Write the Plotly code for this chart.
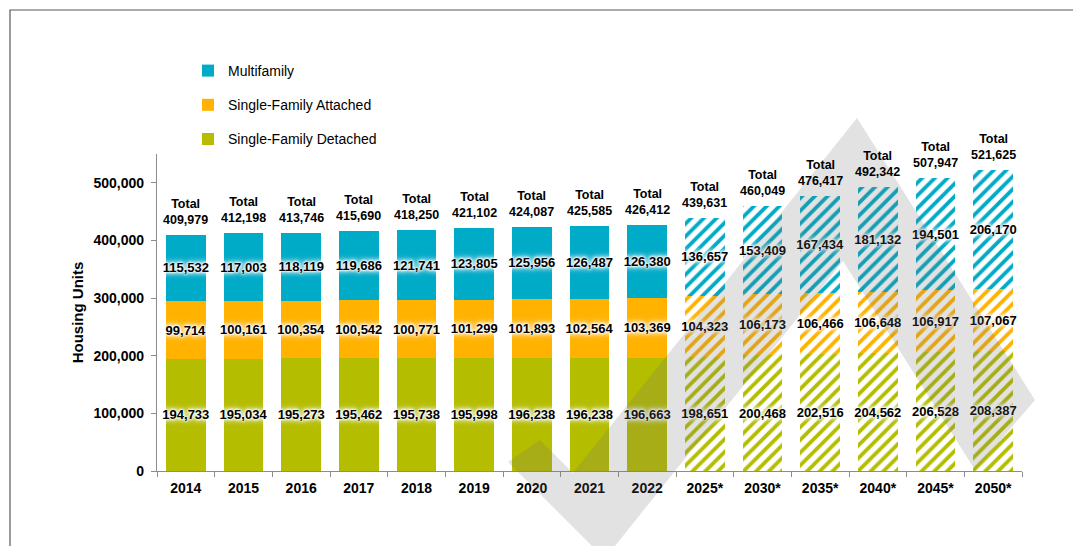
import plotly.graph_objects as go

years = ["2014", "2015", "2016", "2017", "2018", "2019", "2020", "2021", "2022",
         "2025*", "2030*", "2035*", "2040*", "2045*", "2050*"]
n_hist = 9
sf_detached = [194733, 195034, 195273, 195462, 195738, 195998, 196238, 196238, 196663,
               198651, 200468, 202516, 204562, 206528, 208387]
sf_attached = [99714, 100161, 100354, 100542, 100771, 101299, 101893, 102564, 103369,
               104323, 106173, 106466, 106648, 106917, 107067]
multifamily = [115532, 117003, 118119, 119686, 121741, 123805, 125956, 126487, 126380,
               136657, 153409, 167434, 181132, 194501, 206170]
totals = [409979, 412198, 413746, 415690, 418250, 421102, 424087, 425585, 426412,
          439631, 460049, 476417, 492342, 507947, 521625]

series = [
    ("Single-Family Detached", sf_detached, "#b5bd00", 3),
    ("Single-Family Attached", sf_attached, "#ffb300", 2),
    ("Multifamily", multifamily, "#00abc8", 1),
]

# page is drawn with an 8px body margin, so the figure is 8px smaller and offset
OFF = 8
W, H = 1081 - OFF, 546 - OFF
L, R, T, B = 157, 1022, 154, 471   # plot area in page pixels


def px(x, y):
    return (x - L) / (R - L), (B - y) / (B - T)


FONT = "Liberation Sans, Arial, sans-serif"
glow = ("0px 0px 2px #fff, 0px 0px 3px #fff, 0px 0px 3px #fff, 0px 0px 5px #fff, "
        "0px 0px 6px #fff, 0px 0px 8px #fff")

fig = go.Figure()
for name, vals, col, rank in series:
    fig.add_trace(go.Bar(
        x=years[:n_hist], y=vals[:n_hist], name=name, legendgroup=name, legendrank=rank,
        marker=dict(color=col, line=dict(width=0)),
        text=[f"{v:,}" for v in vals[:n_hist]], textposition="inside",
        insidetextanchor="middle", textangle=0, constraintext="none",
        textfont=dict(family=FONT, size=13, color="#000", weight="bold", shadow=glow),
        hoverinfo="skip",
    ))
for name, vals, col, rank in series:
    fig.add_trace(go.Bar(
        x=years[n_hist:], y=vals[n_hist:], name=name, legendgroup=name, showlegend=False,
        legendrank=rank,
        marker=dict(color="white", line=dict(width=0),
                    pattern=dict(shape="/", fgcolor=col, bgcolor="white",
                                 size=9, solidity=0.42, fillmode="replace")),
        text=[f"{v:,}" for v in vals[n_hist:]], textposition="inside",
        insidetextanchor="middle", textangle=0, constraintext="none",
        textfont=dict(family=FONT, size=13, color="#000", weight="bold", shadow=glow),
        hoverinfo="skip",
    ))

annotations = []
for i, tot in enumerate(totals):
    annotations.append(dict(
        x=i, y=tot, xref="x", yref="y", text=f"Total<br>{tot:,}",
        showarrow=False, yanchor="bottom", yshift=6,
        font=dict(family=FONT, size=12.5, color="#000", weight="bold"),
    ))

# outer frame
x0, y0 = px(10, 10)
xb, yb = px(10, 560)
xr, _ = px(1090, 10)
shapes = [dict(type="path", xref="paper", yref="paper",
               path=f"M {xb},{yb} L {x0},{y0} L {xr},{y0}",
               line=dict(color="#595959", width=1.2))]


def poly(points):
    pts = [px(a, b) for a, b in points]
    return "M " + " L ".join(f"{a},{b}" for a, b in pts) + " Z"


wm = "rgba(110,110,110,0.2)"
shapes.append(dict(type="path", xref="paper", yref="paper", layer="above",
                   path=poly([(508, 462), (540, 440), (573, 473), (857, 118), (1035, 400),
                              (975, 470), (843, 261), (615, 546), (592, 546)]),
                   fillcolor=wm, line=dict(width=0)))

fig.update_layout(
    width=W, height=H,
    margin=dict(l=L - OFF, r=(1081 - OFF) - (R - OFF), t=T - OFF, b=(546 - OFF) - (B - OFF)),
    paper_bgcolor="white", plot_bgcolor="white",
    barmode="stack", bargap=0.31,
    font=dict(family=FONT, color="#000"),
    showlegend=True,
    legend=dict(x=px(188, 0)[0], y=px(0, 55)[1], xanchor="left", yanchor="top",
                traceorder="grouped", tracegroupgap=13, itemwidth=30,
                font=dict(family=FONT, size=14, color="#000"),
                bgcolor="rgba(0,0,0,0)"),
    xaxis=dict(type="category", categoryorder="array", categoryarray=years,
               range=[-0.5, len(years) - 0.5],
               showline=True, linecolor="#8c8c8c", linewidth=1.3,
               ticks="outside", tickson="boundaries", ticklen=5, tickcolor="#8c8c8c",
               ticklabelstandoff=4,
               tickfont=dict(family=FONT, size=14, color="#000", weight="bold"),
               showgrid=False, zeroline=False),
    yaxis=dict(range=[0, 550000], showline=True, linecolor="#8c8c8c", linewidth=1.3,
               ticks="outside", ticklen=5, tickcolor="#8c8c8c", ticklabelstandoff=4,
               tickvals=[0, 100000, 200000, 300000, 400000, 500000],
               tickformat=",d", showgrid=False, zeroline=False,
               tickfont=dict(family=FONT, size=14, color="#000", weight="bold"),
               title=dict(text="Housing Units", standoff=6,
                          font=dict(family=FONT, size=15, color="#000", weight="bold"))),
    annotations=annotations,
    shapes=shapes,
)

fig.write_html("out.html")
